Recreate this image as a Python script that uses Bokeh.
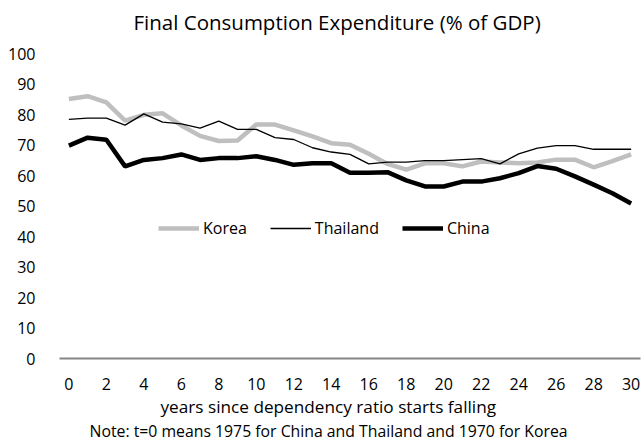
from bokeh.plotting import figure
from bokeh.models import Range1d, Legend, LegendItem, Title, FixedTicker
from bokeh.embed import file_html
from bokeh.resources import INLINE

years = list(range(31))
korea = [85.1, 86.0, 84.0, 78.0, 79.9, 80.4, 76.4, 73.0, 71.3, 71.5, 76.7, 76.7, 74.8, 72.8, 70.6,
         70.1, 67.1, 63.8, 61.9, 64.0, 64.0, 63.0, 64.6, 64.3, 64.0, 64.3, 65.2, 65.2, 62.7, 64.7, 66.9]
thailand = [78.4, 78.8, 78.8, 76.5, 80.2, 77.5, 76.9, 75.5, 77.8, 75.1, 75.1, 72.4, 71.8, 69.1, 67.7,
            66.9, 63.8, 64.4, 64.4, 64.9, 64.9, 65.2, 65.5, 63.8, 67.1, 69.0, 69.8, 69.8, 68.6, 68.6, 68.6]
china = [69.8, 72.4, 71.7, 63.0, 65.1, 65.7, 66.9, 65.1, 65.7, 65.7, 66.3, 65.1, 63.5, 64.0, 64.0,
         60.9, 60.9, 61.1, 58.4, 56.4, 56.4, 58.0, 58.0, 59.1, 60.8, 63.1, 62.2, 59.7, 57.0, 54.2, 50.8]
x_ticks = list(range(0, 31, 2))
y_ticks = list(range(0, 101, 10))
title_text = "Final Consumption Expenditure (% of GDP)"
xlabel_text = "years since dependency ratio starts falling"
note_text = "Note: t=0 means 1975 for China and Thailand and 1970 for  Korea"

FONT = "Open Sans"

p = figure(width=642, height=443, output_backend="svg", toolbar_location=None,
           x_range=Range1d(-0.5, 30.5), y_range=Range1d(0, 100),
           min_border_left=59, min_border_right=2, min_border_top=53, min_border_bottom=85)
p.outline_line_color = None
p.xgrid.grid_line_color = None
p.ygrid.grid_line_color = None

p.title.text = title_text + "\n"
p.title.align = "left"
p.title.offset = 74
p.title.standoff = -10
p.title.text_line_height = 0.8
p.title.text_font = FONT
p.title.text_font_size = "20.5px"
p.title.text_font_style = "normal"
p.title.text_color = "#000000"

r_k = p.line(years, korea, line_color="#BFBFBF", line_width=4.5)
r_t = p.line(years, thailand, line_color="#000000", line_width=1.3)
r_c = p.line(years, china, line_color="#000000", line_width=4.5)

xa = p.xaxis[0]
xa.ticker = FixedTicker(ticks=x_ticks)
xa.axis_line_color = "#868686"
xa.axis_line_width = 2
xa.major_tick_line_color = None
xa.minor_tick_line_color = None
xa.major_label_standoff = 13
xa.major_label_text_font = FONT
xa.major_label_text_font_size = "16px"
xa.major_label_text_color = "#000000"

ya = p.yaxis[0]
ya.ticker = FixedTicker(ticks=y_ticks)
ya.axis_line_color = None
ya.major_tick_line_color = None
ya.minor_tick_line_color = None
ya.major_label_standoff = 18
ya.major_label_text_font = FONT
ya.major_label_text_font_size = "16px"
ya.major_label_text_color = "#000000"

xlab = Title(text=xlabel_text, align="left", offset=101, standoff=0,
             text_font=FONT, text_font_size="17.2px", text_font_style="normal",
             text_color="#000000")
p.add_layout(xlab, "below")
note = Title(text=note_text, align="left", offset=30, standoff=0,
             text_font=FONT, text_font_size="15.8px", text_font_style="normal",
             text_color="#000000")
p.add_layout(note, "below")

legend = Legend(items=[LegendItem(label="Korea", renderers=[r_k]),
                       LegendItem(label="Thailand", renderers=[r_t]),
                       LegendItem(label="China", renderers=[r_c])],
                orientation="horizontal", location=(99, 119),
                padding=0, margin=0, spacing=23, glyph_width=41, glyph_height=22,
                label_standoff=4, label_height=22,
                label_text_font=FONT, label_text_font_size="16px",
                label_text_color="#000000",
                border_line_color=None, background_fill_alpha=0)
p.add_layout(legend, "center")

open("out.html", "w").write(file_html(p, INLINE))
